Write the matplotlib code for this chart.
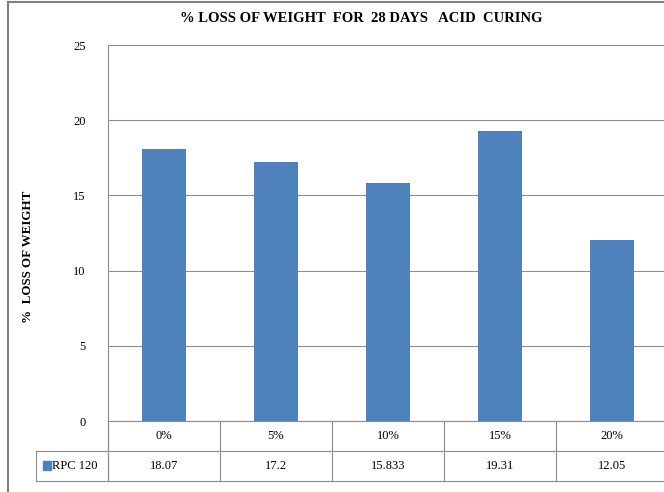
import matplotlib
matplotlib.use("Agg")
import matplotlib.pyplot as plt
from matplotlib.transforms import blended_transform_factory
from matplotlib.lines import Line2D
from matplotlib.patches import Rectangle

categories = ["0%", "5%", "10%", "15%", "20%"]
values = [18.07, 17.2, 15.833, 19.31, 12.05]
value_labels = ["18.07", "17.2", "15.833", "19.31", "12.05"]
series_name = "RPC 120"
yticks = [0, 5, 10, 15, 20, 25]

W, H = 664, 492
plt.rcParams['font.family'] = ['Liberation Serif', 'DejaVu Serif']
fig = plt.figure(figsize=(W / 100, H / 100), dpi=100)
fig.patch.set_facecolor("white")

def fx(px): return px / W
def fy(py): return 1 - py / H

left, right, top, bottom = 108, 668, 45, 421
ax = fig.add_axes([fx(left), fy(bottom), (right - left) / W, (bottom - top) / H])
bar_color = "#4F81BD"
grid_c = "#8c8c8c"
x = list(range(len(categories)))
ax.bar(x, values, width=0.39, color=bar_color, zorder=3)
ax.set_xlim(-0.5, len(categories) - 0.5)
ax.set_ylim(0, 25)
ax.set_yticks(yticks)
ax.set_yticklabels([str(t) for t in yticks], fontsize=9)
ax.tick_params(axis='y', length=0, pad=16)
ax.set_xticks([])
ax.grid(axis='y', color=grid_c, linewidth=0.8, zorder=0)
for s in ['top', 'right']:
    ax.spines[s].set_visible(False)
ax.spines['left'].set_color(grid_c)
ax.spines['bottom'].set_color(grid_c)

# data table
tr = blended_transform_factory(ax.transData, fig.transFigure)
row1_top, row1_bot, row2_bot = 421, 451, 481
label_left = 36
def hline(y, x0px, x1px):
    fig.add_artist(Line2D([fx(x0px), fx(x1px)], [fy(y), fy(y)], color=grid_c, lw=0.8))
def vline(xpx, y0, y1):
    fig.add_artist(Line2D([fx(xpx), fx(xpx)], [fy(y0), fy(y1)], color=grid_c, lw=0.8))
hline(row1_bot, label_left, right)
hline(row2_bot, label_left, right)
vline(label_left, row1_bot, row2_bot)
vline(left, row1_top, row2_bot)
for i in range(len(categories) + 1):
    e = i - 0.5
    ax.add_artist(Line2D([e, e], [fy(row1_top), fy(row2_bot)], transform=tr,
                         color=grid_c, lw=0.8, clip_on=False))
for i, (c, v) in enumerate(zip(categories, value_labels)):
    ax.text(i, fy((row1_top + row1_bot) / 2), c, transform=tr, ha='center', va='center',
            fontsize=9, clip_on=False)
    ax.text(i, fy((row1_bot + row2_bot) / 2), v, transform=tr, ha='center', va='center',
            fontsize=9, clip_on=False)
fig.add_artist(Rectangle((fx(43), fy(470)), 8 / W, 9 / H, color=bar_color))
fig.text(fx(52), fy(466), series_name, ha='left', va='center', fontsize=9)

# titles
fig.text(fx(361), fy(18), "% LOSS OF WEIGHT  FOR  28 DAYS   ACID  CURING", ha='center',
         va='center', fontsize=10.5, fontweight='bold')
fig.text(fx(28), fy(257), "%  LOSS OF WEIGHT", ha='center', va='center', rotation=90,
         fontsize=9.4, fontweight='bold')

# outer frame
fig.add_artist(Line2D([fx(8), fx(8)], [0, fy(2)], color="#7f7f7f", lw=1.5))
fig.add_artist(Line2D([fx(8), 1], [fy(2), fy(2)], color="#7f7f7f", lw=1.5))

fig.savefig("out.png", dpi=100)
